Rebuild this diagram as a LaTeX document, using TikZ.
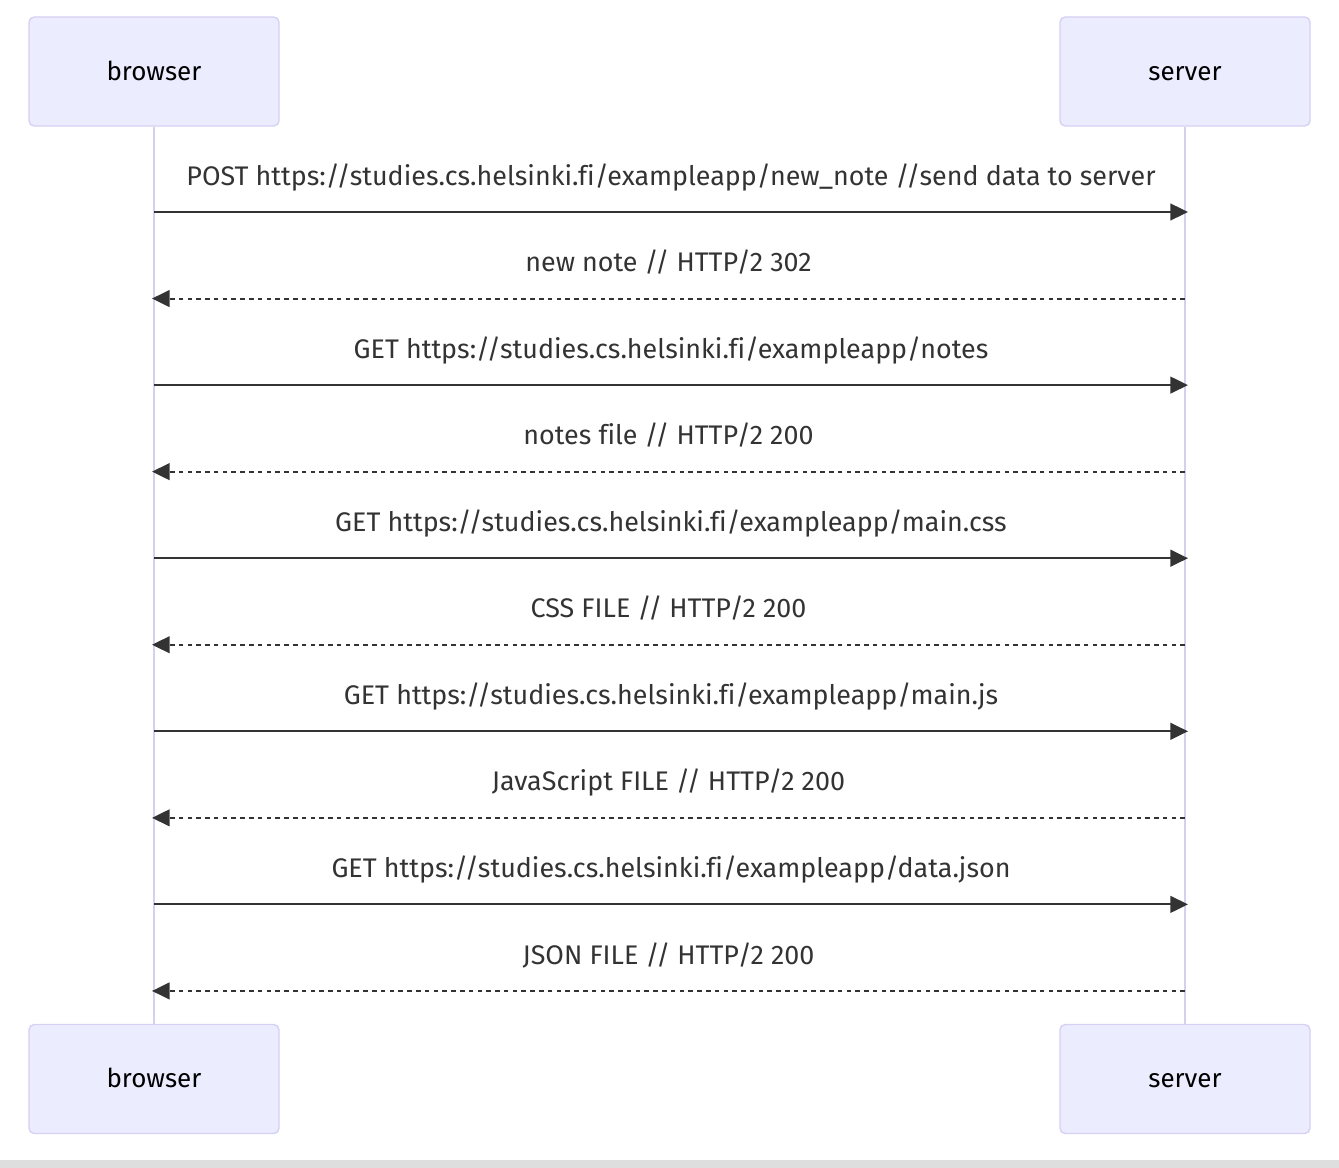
\documentclass[tikz,border=0pt]{standalone}
\usepackage{fontspec}
\setmainfont{Fira Sans}[Ligatures=NoCommon]
\usetikzlibrary{arrows.meta,positioning}
\definecolor{cActor}{HTML}{ECECFF}
\definecolor{cEdge}{HTML}{D6D0F2}
\definecolor{cLife}{HTML}{D8CEF0}
\definecolor{cMsg}{HTML}{333333}
\definecolor{cBar}{HTML}{DEDEDE}

\begin{document}
\begin{tikzpicture}[x=0.2mm,y=-0.2mm,
   >={Triangle[length=10pt,width=9.5pt]},
   actor/.style={draw=cEdge,fill=cActor,line width=0.8pt,rounded corners=3pt,
      minimum width=50mm,minimum height=21.8mm,inner sep=0pt,
      text height=1.9ex,text depth=0pt,
      font=\fontsize{14.8}{17}\selectfont},
   life/.style={draw=cLife,line width=1.5pt},
   call/.style={->,cMsg,line width=1.1pt},
   reply/.style={call,dash pattern=on 2.6pt off 2.4pt},
   msg/.style={text=cMsg,font=\fontsize{15.3}{18}\selectfont,inner sep=0pt,
      anchor=base,yshift=15.3pt}]
  \useasboundingbox (0,0) rectangle (1339,1168);
  % participants
  \node[actor] (bTop) at (154,71.5) {browser};
  \node[actor] (sTop) at (1185,71.5) {server};
  \node[actor] (bBot) at (154,1079) {browser};
  \node[actor] (sBot) at (1185,1079) {server};
  % lifelines
  \draw[life] (bTop) -- (bBot);
  \draw[life] (sTop) -- (sBot);
  % messages
  \foreach \txt [count=\i] in {
      POST https://studies.cs.helsinki.fi/exampleapp/new\_note //send data to server,
      new note // HTTP/2 302,
      GET https://studies.cs.helsinki.fi/exampleapp/notes,
      notes file // HTTP/2 200,
      GET https://studies.cs.helsinki.fi/exampleapp/main.css,
      CSS FILE // HTTP/2 200,
      GET https://studies.cs.helsinki.fi/exampleapp/main.js,
      JavaScript FILE // HTTP/2 200,
      GET https://studies.cs.helsinki.fi/exampleapp/data.json,
      JSON FILE // HTTP/2 200}{
    \pgfmathsetmacro\y{212+86.55*(\i-1)}
    \ifodd\i
      \coordinate (b\i) at (154,\y);
      \coordinate (s\i) at (1188,\y);
      \draw[call] (b\i) -- node[msg] (m\i) {\txt} (s\i);
    \else
      \coordinate (b\i) at (152,\y);
      \coordinate (s\i) at (1185,\y);
      \draw[reply] (s\i) -- node[msg] (m\i) {\txt} (b\i);
    \fi
  }
  % page edge
  \fill[cBar] (0,1160) rectangle (1339,1168);
\end{tikzpicture}
\end{document}
